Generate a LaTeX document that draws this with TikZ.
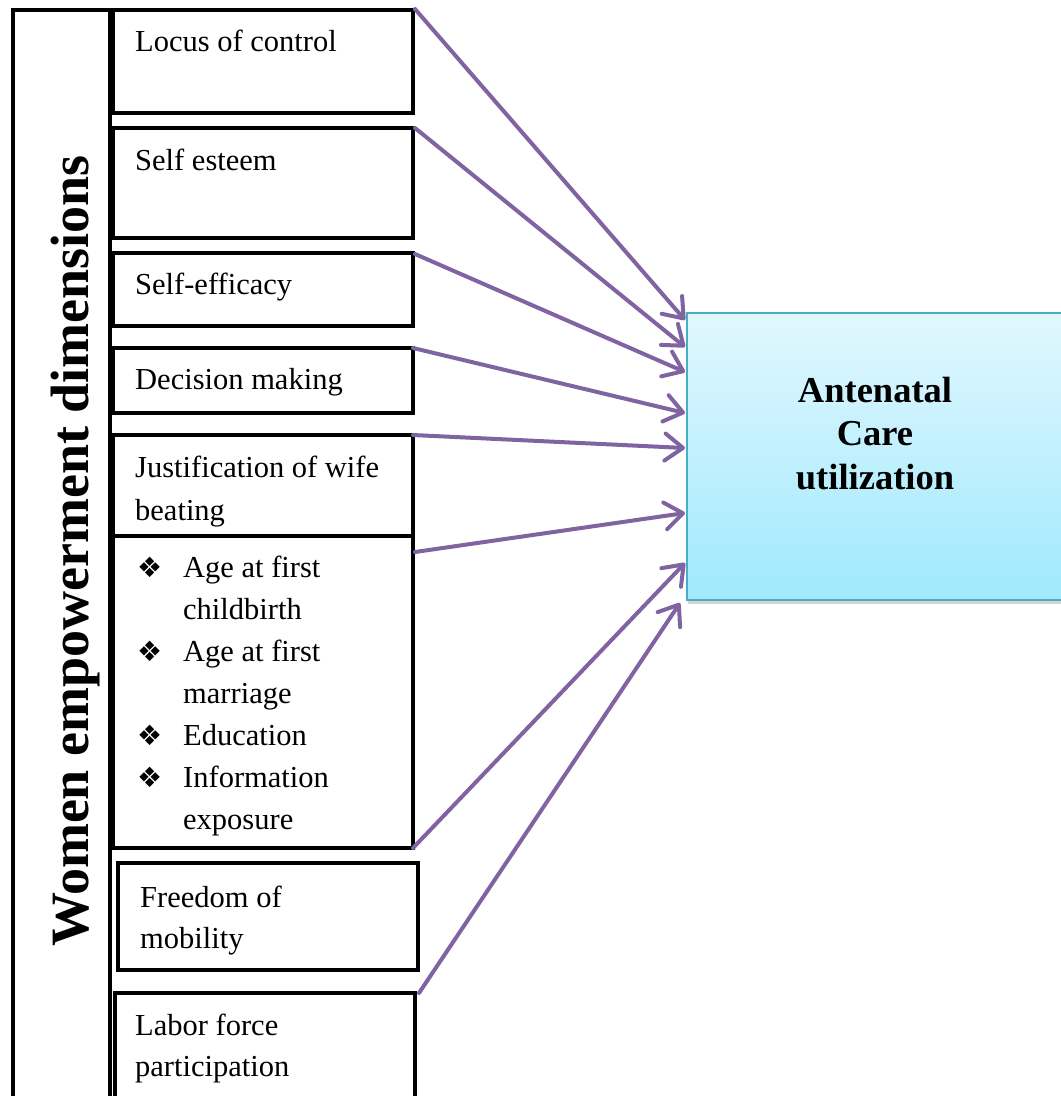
\documentclass[tikz,border=0pt]{standalone}
\usepackage{fontspec}
\setmainfont{Liberation Serif}
\newfontfamily\dejavu{DejaVu Sans}
\usetikzlibrary{arrows.meta,calc,shadows}
\definecolor{arrowpurple}{HTML}{8064A2}
\definecolor{ancborder}{HTML}{4BACC6}
\definecolor{anctop}{HTML}{E1F7FE}
\definecolor{ancbottom}{HTML}{A0E9FD}
\newcommand{\bul}{\makebox[46pt][l]{\dejavu\fontsize{28}{28}\selectfont ❖}}
\newcommand{\ind}{\hspace*{46pt}}
\newcommand{\leftlines}[1]{\begin{tabular}[t]{@{}l@{}}#1\end{tabular}}
\newcommand{\centerlines}[1]{\begin{tabular}[t]{@{}c@{}}#1\end{tabular}}
\begin{document}
\begin{tikzpicture}[x=1pt,y=-1pt,
  dimbox/.style={draw=black, line width=3.6pt, fill=white, anchor=north west, inner sep=0pt, outer sep=0pt},
  lbl/.style={anchor=base west, inner sep=0pt, font=\fontsize{30.5}{42}\selectfont},
  link/.style={draw=arrowpurple, line width=4pt, line cap=round, -{Straight Barb[length=18pt,width=27pt,line cap=round,line join=round]}}
]
\useasboundingbox (0,0) rectangle (1061,1096);
\begin{scope}
\clip (0,0) rectangle (1061,1096);
% frame with title
\node[dimbox, minimum width=97pt, minimum height=1120pt] (frame) at (13,10) {};
\node[anchor=base, rotate=90, inner sep=0pt, font=\fontsize{54}{60}\selectfont\bfseries] (title) at (88,551) {Women empowerment dimensions};
% dimension boxes
\node[dimbox, minimum width=300pt, minimum height=103pt] (loc) at (113,10) {};
\node[dimbox, minimum width=300pt, minimum height=110pt] (esteem) at (113,128) {};
\node[dimbox, minimum width=300pt, minimum height=73pt] (efficacy) at (113,253) {};
\node[dimbox, minimum width=300pt, minimum height=65pt] (decision) at (113,348) {};
\node[dimbox, minimum width=300pt, minimum height=101pt] (justif) at (113,435) {};
\node[dimbox, minimum width=300pt, minimum height=312pt] (bullets) at (113,536) {};
\node[dimbox, minimum width=300pt, minimum height=107pt] (freedom) at (118,863) {};
\node[dimbox, minimum width=300pt, minimum height=127pt] (labor) at (115,993) {};
% labels
\node[lbl] (loctext) at (135,51) {Locus of control};
\node[lbl] (esteemtext) at (135,170) {Self esteem};
\node[lbl] (efficacytext) at (135,294) {Self-efficacy};
\node[lbl] (decisiontext) at (135,389) {Decision making};
\node[lbl, font=\fontsize{30.5}{43}\selectfont] (justiftext) at (135,477) {\leftlines{Justification of wife\\beating}};
\node[lbl] (bulletstext) at (137,577) {\leftlines{\bul Age at first\\\ind childbirth\\\bul Age at first\\\ind marriage\\\bul Education\\\bul Information\\\ind exposure}};
\node[lbl, font=\fontsize{30.5}{41}\selectfont] (freedomtext) at (140,907) {\leftlines{Freedom of\\mobility}};
\node[lbl, font=\fontsize{30.5}{41.5}\selectfont] (labortext) at (135,1035) {\leftlines{Labor force\\participation}};
% outcome box
\node[anchor=north west, inner sep=0pt, outer sep=0pt, minimum width=400pt, minimum height=287pt,
  draw=ancborder, line width=2.2pt, top color=anctop, bottom color=ancbottom,
  drop shadow={shadow xshift=1pt, shadow yshift=-4pt, opacity=0.35}] (anc) at (687,313) {};
\node[anchor=base, inner sep=0pt, font=\fontsize{36.5}{43.5}\selectfont\bfseries] (anctext) at (875,402) {\centerlines{Antenatal\\Care\\utilization}};
% tips
\coordinate (t1) at ($(anc.north west)+(-2,7)$);
\coordinate (t2) at ($(anc.north west)+(-2,34)$);
\coordinate (t3) at ($(anc.north west)+(-2,59)$);
\coordinate (t4) at ($(anc.north west)+(-2,100)$);
\coordinate (t5) at ($(anc.north west)+(-2,135)$);
\coordinate (t6) at ($(anc.north west)+(-2,200)$);
\coordinate (t7) at ($(anc.north west)+(-2,250)$);
\coordinate (t8) at ($(anc.north west)+(-7,290)$);
\draw[link] ($(loc.north east)+(2,-1)$) -- (t1);
\draw[link] ($(esteem.north east)+(2,0)$) -- (t2);
\draw[link] ($(efficacy.north east)+(2,1)$) -- (t3);
\draw[link] (decision.north east) -- (t4);
\draw[link] (justif.north east) -- (t5);
\draw[link] ($(bullets.north east)+(2,16)$) -- (t6);
\draw[link] (bullets.south east) -- (t7);
\draw[link] ($(labor.north east)+(4,0)$) -- (t8);
\end{scope}
\end{tikzpicture}
\end{document}
